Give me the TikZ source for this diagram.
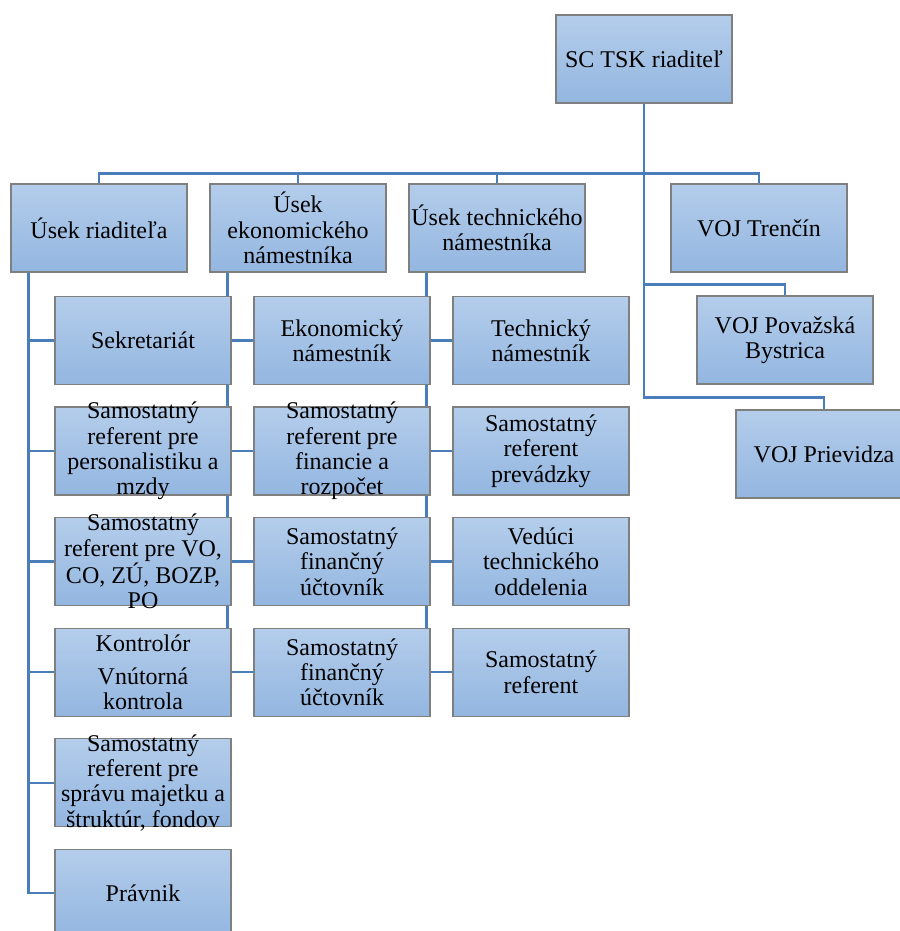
\documentclass[tikz,border=0pt]{standalone}
\usepackage{fontspec}
\setmainfont{Liberation Serif}
\usetikzlibrary{positioning, backgrounds}

\definecolor{boxtop}{HTML}{B4CDEB}
\definecolor{boxbot}{HTML}{93B6E0}
\definecolor{boxline}{HTML}{7F7F7F}
\definecolor{linkblue}{HTML}{4A7EBB}

\begin{document}
\begin{tikzpicture}[
            x = 0.75pt, % one pixel
            y = -0.75pt, % y grows downwards
            node distance = 16pt, % gap between boxes
            font = \fontsize{18}{19}\selectfont
        ]

        \tikzstyle{box}=[
            draw = boxline,
            line width = 0.9pt,
            top color = boxtop,
            bottom color = boxbot,
            minimum width = 132pt,
            minimum height = 66pt,
            inner sep = 0pt
        ]
        \tikzstyle{txt}=[
            align = center,
            inner sep = 0pt
        ]
        \tikzstyle{link}=[
            draw = linkblue,
            line width = 1.7pt
        ]

        \useasboundingbox (0,0) rectangle (899,931);

        % top and second level
        \node[box, label={[txt]center:SC TSK riaditeľ}] (dir) at (644,59) {};
        \node[box, label={[txt]center:Úsek riaditeľa}] (ur) at (99,228) {};
        \node[box, label={[txt]center:Úsek\\ekonomického\\námestníka}] (ue) [right=16.35pt of ur] {};
        \node[box, label={[txt]center:Úsek technického\\námestníka}] (ut) [right=16.35pt of ue] {};
        \node[box, label={[txt]center:VOJ Trenčín}] (vtn) at (759,228) {};
        \node[box, label={[txt]center:VOJ Považská\\Bystrica}] (pov) at (785,340) {};
        \node[box, label={[txt]center:VOJ Prievidza}] (prv) at (824,454) {};

        % usek riaditela
        \node[box, label={[txt]center:Sekretariát}] (sek) [below right=17.5pt and 33pt of ur.south west, anchor=north west] {};
        \node[box, label={[txt]center:Samostatný\\referent pre\\personalistiku a\\mzdy}] (spm) [below=of sek] {};
        \node[box, label={[txt]center:Samostatný\\referent pre VO,\\CO, ZÚ, BOZP,\\PO}] (svo) [below=of spm] {};
        \node[box, label={[txt]center:Kontrolór\\[6pt]Vnútorná\\kontrola}] (kon) [below=of svo] {};
        \node[box, label={[txt]center:Samostatný\\referent pre\\správu majetku a\\štruktúr, fondov}] (sma) [below=of kon] {};
        \node[box, label={[txt]center:Právnik}] (prav) [below=of sma] {};

        % usek ekonomickeho namestnika
        \node[box, label={[txt]center:Ekonomický\\námestník}] (ekn) [right=16.35pt of sek] {};
        \node[box, label={[txt]center:Samostatný\\referent pre\\financie a\\rozpočet}] (sfr) [below=of ekn] {};
        \node[box, label={[txt]center:Samostatný\\finančný\\účtovník}] (sfu) [below=of sfr] {};
        \node[box, label={[txt]center:Samostatný\\finančný\\účtovník}] (sfv) [below=of sfu] {};

        % usek technickeho namestnika
        \node[box, label={[txt]center:Technický\\námestník}] (tn) [right=16.35pt of ekn] {};
        \node[box, label={[txt]center:Samostatný\\referent\\prevádzky}] (srp) [below=of tn] {};
        \node[box, label={[txt]center:Vedúci\\technického\\oddelenia}] (vto) [below=of srp] {};
        \node[box, label={[txt]center:Samostatný\\referent}] (sr) [below=of vto] {};

        \begin{scope}[on background layer]
            \coordinate (bus) at ([yshift=-52.5pt]dir.south);
            \foreach \n in {ur,ue,ut,vtn}
                \draw[link] (dir.south) -- (bus) -| (\n.north);
            \draw[link] (dir.south) |- ([yshift=8.25pt]pov.north) -- (pov.north);
            \draw[link] (dir.south) |- ([yshift=9pt]prv.north) -- (prv.north);

            \foreach \n in {sek,spm,svo,kon,sma,prav}
                \draw[link] ([xshift=13.5pt]ur.south west) |- (\n.west);
            \foreach \n in {ekn,sfr,sfu,sfv}
                \draw[link] ([xshift=13.5pt]ue.south west) |- (\n.west);
            \foreach \n in {tn,srp,vto,sr}
                \draw[link] ([xshift=13.5pt]ut.south west) |- (\n.west);
        \end{scope}
    \end{tikzpicture}
\end{document}
